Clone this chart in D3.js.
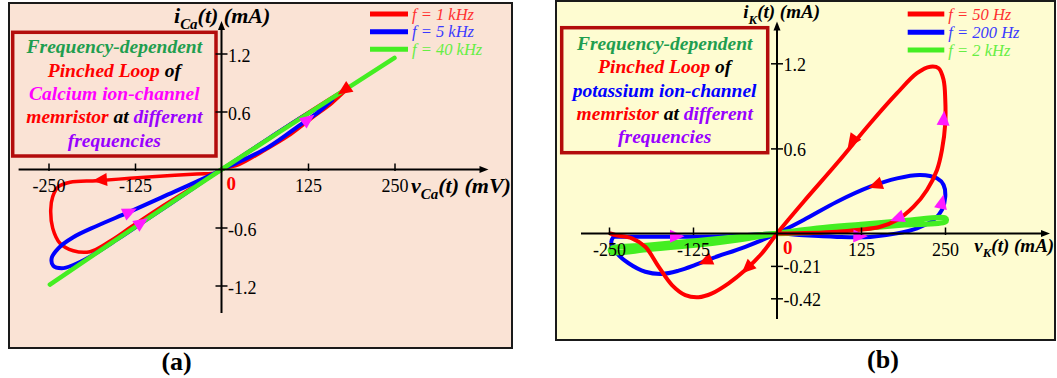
<!DOCTYPE html>
<meta charset="utf-8">
<style>
    body {
        margin: 0;
        padding: 0;
        background: #fff;
    }
    text {
        font-family: "Liberation Serif", "Times New Roman", serif;
    }
</style>
<body>
<script src="https://cdnjs.cloudflare.com/ajax/libs/d3/7.8.5/d3.min.js"></script>
<script>
    // ---------- panel (a): calcium channel, v in mV, i in mA ----------
    var caTicksX = [-250, -125, 125, 250];
    var caTicksY = [-1.2, -0.6, 0.6, 1.2];
    var caLegend = ["f = 1 kHz", "f = 5 kHz", "f = 40 kHz"];

    var ca1k = [[184, 0.85], [150, 0.70], [100, 0.47], [50, 0.235], [0, 0],
        [-6.9, -0.033], [-35.8, -0.047], [-84.1, -0.067], [-132.2, -0.091], [-180.3, -0.116],
        [-218.9, -0.132], [-235.8, -0.178], [-243.9, -0.281], [-246.8, -0.419], [-243.9, -0.608],
        [-233.4, -0.763], [-214.2, -0.84], [-190, -0.85], [-161, -0.74], [-130, -0.59],
        [-90, -0.40], [-45, -0.20], [0, 0],
        [25, 0.05], [60, 0.19], [95, 0.34], [130, 0.53], [160, 0.69], [184, 0.85]];

    var ca5k = [[160, 0.72], [120, 0.56], [70, 0.33], [30, 0.14], [0, 0],
        [-35.8, -0.126], [-84.1, -0.281], [-132.2, -0.436], [-180.3, -0.584], [-214.2, -0.701],
        [-235.8, -0.815], [-245.4, -0.918], [-243, -0.998], [-230.9, -1.022], [-214.2, -0.988],
        [-190, -0.902], [-150, -0.72], [-100, -0.48], [-50, -0.24], [0, 0],
        [20.7, 0.064], [68.6, 0.236], [116.8, 0.478], [140.9, 0.598], [160, 0.72]];

    var ca40k = [[-248, -1.19], [-125, -0.595], [0, 0], [125, 0.578], [250, 1.155]];

    // arrow: [v, i, toward v, toward i, colour]
    var caArrows = [
        [-175.6, -0.109, -210, -0.13, "#ff0000"],
        [-132.2, -0.436, -100, -0.33, "#ff1aff"],
        [-115.3, -0.548, -80, -0.38, "#ff1aff"],
        [125.5, 0.52, 150, 0.65, "#ff1aff"],
        [177, 0.82, 150, 0.69, "#ff0000"]
    ];

    var caNote = [
        [["Frequency-dependent", "#1f9e4f"]],
        [["Pinched Loop", "#ff0000"], [" of", "#000"]],
        [["Calcium ion-channel", "#ff00ff"]],
        [["memristor", "#ff0000"], [" at ", "#000"], ["different", "#9900ff"]],
        [["frequencies", "#9900ff"]]
    ];

    // ---------- panel (b): potassium channel ----------
    var kTicksX = [-250, -125, 125, 250];
    var kTicksY = [-0.42, -0.21, 0.6, 1.2];
    var kLegend = ["f = 50 Hz", "f = 200 Hz", "f = 2 kHz"];

    var k50 = [[0, 0], [89.3, 0.013], [153.7, 0.048], [178.6, 0.095], [203.3, 0.189], [223.2, 0.307],
        [238.1, 0.448], [245.5, 0.589], [250.4, 0.777], [250.4, 0.942], [247.9, 1.083], [240.5, 1.165],
        [228.1, 1.176], [208.3, 1.13], [178.6, 0.989], [138.8, 0.777], [89.3, 0.495], [39.6, 0.224], [0, 0],
        [-22.3, -0.128], [-47.2, -0.237], [-72, -0.323], [-96.7, -0.388], [-116.7, -0.413], [-136.5, -0.399],
        [-156.3, -0.334], [-176.2, -0.215], [-196, -0.086], [-215.8, -0.031], [-240.6, -0.01], [-248, 0]];

    var k200 = [[-243.2, -0.02], [-220.8, -0.021], [-150, -0.021], [-80, -0.018], [0, 0],
        [39.6, -0.012], [89.3, -0.022], [138.8, -0.022], [178.6, 0.001], [208.3, 0.037], [233, 0.095],
        [245.5, 0.166], [250.4, 0.26], [247.9, 0.342], [238.1, 0.389], [213.2, 0.413], [178.6, 0.389],
        [138.8, 0.33], [89.3, 0.224], [39.6, 0.095], [0, 0],
        [-47.2, -0.086], [-96.7, -0.161], [-121.6, -0.204], [-146.4, -0.241], [-171.1, -0.262],
        [-196, -0.248], [-220.8, -0.193], [-238.1, -0.128], [-246.6, -0.055], [-243.2, -0.02]];

    var k2k = [[0, 0], [60, 0.037], [125, 0.064], [190, 0.09], [250, 0.11], [252, 0.096], [250, 0.081],
        [190, 0.061], [125, 0.036], [60, 0.011], [0, 0],
        [-60, -0.023], [-125, -0.05], [-190, -0.076], [-246, -0.096], [-248, -0.11], [-246, -0.122],
        [-190, -0.102], [-125, -0.077], [-60, -0.042], [0, 0]];

    var kArrows = [
        [111.6, 0.647, 89.3, 0.495, "#ff0000"],
        [146.3, 0.34, 110, 0.28, "#ff0000"],
        [248, 0.812, 250.4, 0.95, "#ff1aff"],
        [245.5, 0.224, 249, 0.3, "#ff1aff"],
        [178.6, 0.107, 160, 0.075, "#ff1aff"],
        [124, -0.017, 150, -0.02, "#ff1aff"],
        [-148.8, -0.018, -120, -0.018, "#ff1aff"],
        [-106.7, -0.18, -130, -0.225, "#ff0000"],
        [-44.6, -0.226, -70, -0.33, "#ff0000"]
    ];

    var kNote = [
        [["Frequency-dependent", "#1f9e4f"]],
        [["Pinched Loop", "#ff0000"], [" of", "#000"]],
        [["potassium ion-channel", "#0000ff"]],
        [["memristor", "#ff0000"], [" at ", "#000"], ["different", "#9900ff"]],
        [["frequencies", "#9900ff"]]
    ];

    var RED = "#ff0000", BLUE = "#0000ff", GREEN = "#44ee22";

    var svg = d3.select("body").append("svg")
        .attr("width", 1057)
        .attr("height", 378);

    var panels = [
        {
            frame: [9, 3, 503, 345], bg: "#fae3d5",
            x: d3.scaleLinear().domain([-250, 250]).range([48.5, 394.5]),
            y: d3.scaleLinear().domain([-1.2, 1.2]).range([285.5, 53.5]),
            xEnds: [18.6, 488.5], yEnds: [313, 21],
            ticksX: caTicksX, ticksY: caTicksY, yDy: 8,
            series: [[ca1k, RED, 3.5], [ca5k, BLUE, 4], [ca40k, GREEN, 4.5]],
            arrows: caArrows,
            legend: caLegend, legX: [370, 408, 412], legY: [14, 31.7, 49.3],
            note: caNote, box: [12.7, 32.3, 203.3, 123.7], noteY: [53.3, 76.7, 100, 123.3, 146.7],
            yLab: ["i", "Ca", 174, 22.7], xLab: ["v", "Ca", 411, 193, "(mV)"], labSize: 22,
            zero: [226.5, 190], tag: ["(a)", 176.6, 370]
        },
        {
            frame: [556, 1, 499, 339], bg: "#fefcd1",
            x: d3.scaleLinear().domain([-250, 250]).range([609, 945]),
            y: d3.scaleLinear().domain([-0.42, 0, 1.2]).range([298.3, 233.5, 63.3]),
            xEnds: [581, 1050], yEnds: [319, 21.5],
            ticksX: kTicksX, ticksY: kTicksY, yDy: 7,
            series: [[k200, BLUE, 4], [k2k, GREEN, 5.5], [k50, RED, 4]],
            arrows: kArrows,
            legend: kLegend, legX: [907.7, 944.3, 948.3], legY: [14, 32.3, 50],
            note: kNote, box: [561.7, 27.7, 206, 125], noteY: [50, 73.3, 96.7, 120, 142.7],
            yLab: ["i", "K", 743.3, 18.3], xLab: ["v", "K", 974.3, 251.7, "(mA)"], labSize: 19,
            zero: [783, 254], tag: ["(b)", 883, 368]
        }
    ];

    var legendColors = [RED, BLUE, GREEN];
    var legendText = ["#ff3030", "#3a3aff", "#66ee44"];

    panels.forEach(function(p) {
        var g = svg.append("g");
        var x = p.x, y = p.y;
        var ox = x(0), oy = y(0);

        g.append("rect")
            .attr("x", p.frame[0]).attr("y", p.frame[1])
            .attr("width", p.frame[2]).attr("height", p.frame[3])
            .attr("fill", p.bg)
            .attr("stroke", "#1a1a1a")
            .attr("stroke-width", 2);

        // note box
        g.append("rect")
            .attr("x", p.box[0]).attr("y", p.box[1])
            .attr("width", p.box[2]).attr("height", p.box[3])
            .attr("fill", "none")
            .attr("stroke", "#b30c0c")
            .attr("stroke-width", 3.5);
        var cx = p.box[0] + p.box[2] / 2;
        p.note.forEach(function(line, k) {
            var t = g.append("text")
                .attr("x", cx).attr("y", p.noteY[k])
                .attr("text-anchor", "middle")
                .attr("font-size", 19.5)
                .attr("font-weight", "bold")
                .attr("font-style", "italic")
                .style("white-space", "pre");
            line.forEach(function(seg) {
                t.append("tspan").attr("fill", seg[1]).text(seg[0]);
            });
        });

        // curves
        var lineGen = d3.line()
            .x(function(d) { return x(d[0]); })
            .y(function(d) { return y(d[1]); })
            .curve(d3.curveCatmullRom.alpha(0.5));
        p.series.forEach(function(s) {
            g.append("path")
                .attr("d", lineGen(s[0]))
                .attr("fill", "none")
                .attr("stroke", s[1])
                .attr("stroke-width", s[2])
                .attr("stroke-linejoin", "round")
                .attr("stroke-linecap", "round");
        });

        // direction arrows
        p.arrows.forEach(function(a) {
            var x0 = x(a[0]), y0 = y(a[1]);
            var ang = Math.atan2(y(a[3]) - y0, x(a[2]) - x0) * 180 / Math.PI;
            g.append("path")
                .attr("d", "M7.5,0L-7,-6.5L-7,6.5Z")
                .attr("transform", "translate(" + x0 + "," + y0 + ") rotate(" + ang + ")")
                .attr("fill", a[4]);
        });

        // axes
        g.append("line")
            .attr("x1", p.xEnds[0]).attr("x2", p.xEnds[1] - 4)
            .attr("y1", oy).attr("y2", oy)
            .attr("stroke", "#000").attr("stroke-width", 2);
        g.append("path")
            .attr("d", "M" + p.xEnds[1] + "," + oy + "l-9,-3.5v7z")
            .attr("fill", "#000");
        g.append("line")
            .attr("x1", ox).attr("x2", ox)
            .attr("y1", p.yEnds[0]).attr("y2", p.yEnds[1] + 4)
            .attr("stroke", "#000").attr("stroke-width", 2);
        g.append("path")
            .attr("d", "M" + ox + "," + p.yEnds[1] + "l-3.5,9h7z")
            .attr("fill", "#000");

        var xa = g.append("g")
            .attr("transform", "translate(0," + oy + ")")
            .call(d3.axisBottom(x).tickValues(p.ticksX).tickSizeInner(-6).tickSizeOuter(0)
                .tickPadding(10).tickFormat(String));
        xa.select(".domain").remove();
        xa.attr("font-family", null).attr("font-size", 18);
        xa.selectAll(".tick line").attr("y1", 1.5).attr("stroke", "#000").attr("stroke-width", 1.5);
        xa.selectAll(".tick text").attr("fill", "#000");

        var ya = g.append("g")
            .attr("transform", "translate(" + ox + ",0)")
            .call(d3.axisRight(y).tickValues(p.ticksY).tickSize(6).tickPadding(0.5).tickFormat(String));
        ya.select(".domain").remove();
        ya.attr("font-family", null).attr("font-size", 18);
        ya.selectAll(".tick line").attr("x1", -6).attr("stroke", "#000").attr("stroke-width", 1.5);
        ya.selectAll(".tick text").attr("fill", "#000").attr("dy", null).attr("y", p.yDy);

        // axis labels
        function axisLabel(parts, unit) {
            var fs = p.labSize;
            var t = g.append("text")
                .attr("x", parts[2]).attr("y", parts[3])
                .attr("font-size", fs)
                .attr("font-weight", "bold")
                .attr("font-style", "italic")
                .style("white-space", "pre");
            t.append("tspan").text(parts[0]);
            t.append("tspan").attr("font-size", fs * 0.68).attr("dy", fs * 0.28).text(parts[1]);
            t.append("tspan").attr("dy", -fs * 0.28).text("(t) " + unit);
        }
        axisLabel(p.yLab, "(mA)");
        axisLabel(p.xLab, p.xLab[4]);

        g.append("text")
            .attr("x", p.zero[0]).attr("y", p.zero[1])
            .attr("font-size", 19)
            .attr("font-weight", "bold")
            .attr("fill", "#ff0000")
            .text("0");

        // legend
        p.legend.forEach(function(lab, k) {
            g.append("line")
                .attr("x1", p.legX[0]).attr("x2", p.legX[1])
                .attr("y1", p.legY[k]).attr("y2", p.legY[k])
                .attr("stroke", legendColors[k])
                .attr("stroke-width", 5);
            g.append("text")
                .attr("x", p.legX[2]).attr("y", p.legY[k] + 5.5)
                .attr("font-size", 16.5)
                .attr("font-style", "italic")
                .attr("fill", legendText[k])
                .style("white-space", "pre")
                .text(lab);
        });

        svg.append("text")
            .attr("x", p.tag[1]).attr("y", p.tag[2])
            .attr("text-anchor", "middle")
            .attr("font-size", 26)
            .attr("font-weight", "bold")
            .text(p.tag[0]);
    });
</script>
</body>
</html>
